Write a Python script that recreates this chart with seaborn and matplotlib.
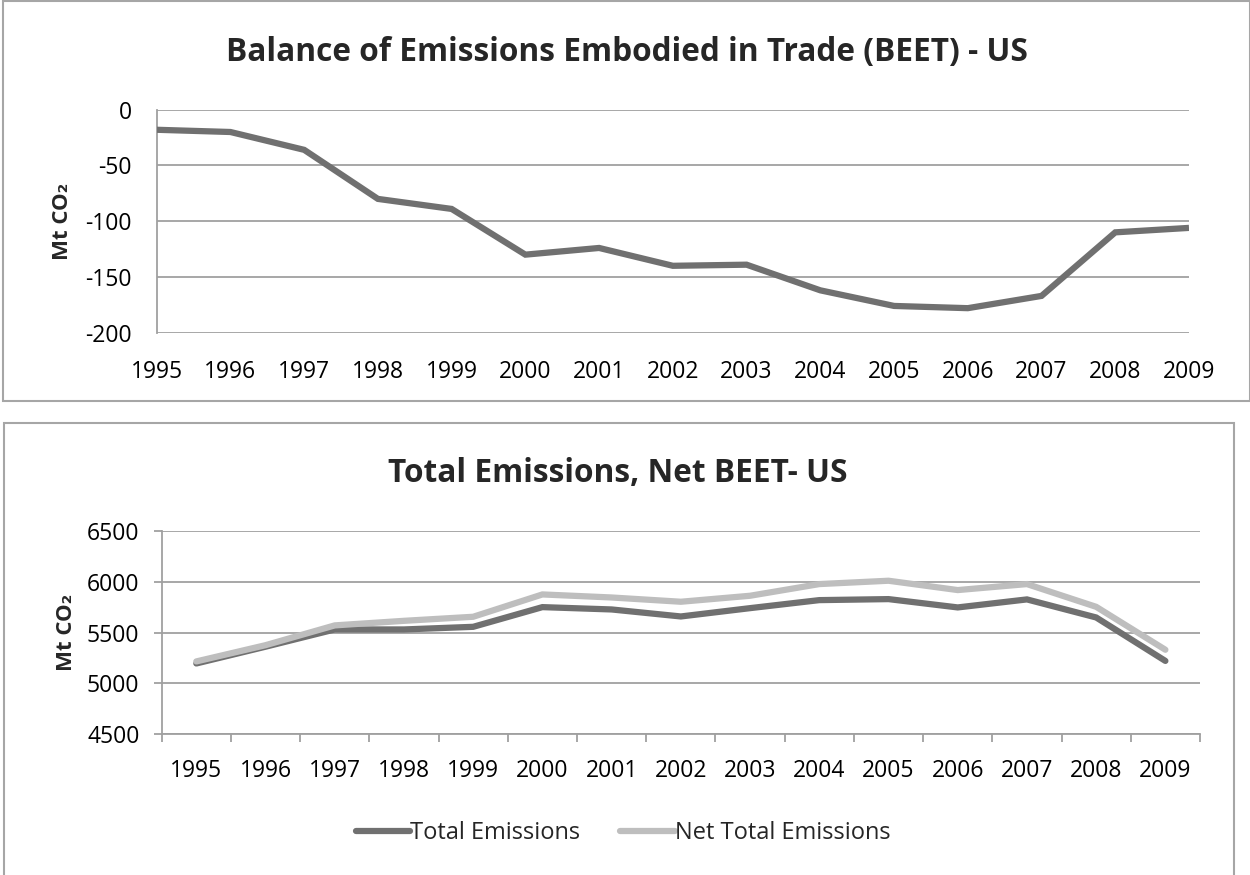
import matplotlib
matplotlib.use("Agg")
import matplotlib.pyplot as plt
from matplotlib.patches import Rectangle
from matplotlib.lines import Line2D
import seaborn as sns
import pandas as pd
import numpy as np

# ---- data (Mt CO2) ----
years = [1995, 1996, 1997, 1998, 1999, 2000, 2001, 2002,
         2003, 2004, 2005, 2006, 2007, 2008, 2009]
beet = [-18, -20, -36, -80, -89, -130, -124, -140,
        -139, -162, -176, -178, -167, -110, -106]
total_emissions = [5195, 5360, 5530, 5530, 5556, 5750, 5727, 5658,
                   5740, 5819, 5829, 5747, 5826, 5648, 5220]
net_total_emissions = [5215, 5375, 5570, 5615, 5655, 5875, 5845, 5803,
                       5862, 5977, 6010, 5918, 5977, 5753, 5330]
top_yticks = [0, -50, -100, -150, -200]
bottom_yticks = [4500, 5000, 5500, 6000, 6500]

DARK = "#707070"
LIGHT = "#BEBEBE"
GRID = "#A0A0A0"
BORDER = "#A6A6A6"

sns.set_theme(style="white")
plt.rcParams["font.family"] = ["Open Sans", "DejaVu Sans"]
plt.rcParams["axes.unicode_minus"] = False

W, H = 1250, 875
fig = plt.figure(figsize=(W / 100, H / 100), dpi=100)


def fx(px):
    return px / W


def fy(py):
    return 1 - py / H


# chart-area frames
fig.add_artist(Rectangle((fx(2.5), fy(400.5)), fx(1249.5) - fx(2.5), fy(1.5) - fy(400.5),
                         transform=fig.transFigure, fill=False, edgecolor=BORDER, lw=1.5))
fig.add_artist(Rectangle((fx(3.5), fy(880)), fx(1234) - fx(3.5), fy(422.5) - fy(880),
                         transform=fig.transFigure, fill=False, edgecolor=BORDER, lw=1.5))

TICK_FS = 16.5
TITLE_FS = 22.8

# ---- top panel: BEET ----
ax1 = fig.add_axes([fx(156.7), fy(332.7), fx(1189) - fx(156.7), fy(109.7) - fy(332.7)])
df_top = pd.DataFrame({"year": years, "beet": beet})
sns.lineplot(data=df_top, x="year", y="beet", ax=ax1, color=DARK, lw=4.5,
             solid_joinstyle="miter", solid_capstyle="butt", zorder=3)
ax1.set_xlim(1995, 2009)
ax1.set_ylim(-200, 0)
ax1.set_yticks(top_yticks)
ax1.set_xticks(years)
ax1.set_xticklabels([str(y) for y in years])
ax1.yaxis.grid(True, color=GRID, lw=1.3)
ax1.xaxis.grid(False)
for s in ["top", "right", "bottom"]:
    ax1.spines[s].set_visible(False)
ax1.spines["left"].set_color(GRID)
ax1.spines["left"].set_linewidth(1.3)
ax1.tick_params(axis="both", length=0, labelsize=TICK_FS, colors="black")
ax1.tick_params(axis="y", pad=18)
ax1.tick_params(axis="x", pad=20)
ax1.set_xlabel("")
ax1.set_ylabel("Mt CO\u2082", fontsize=16, fontweight="bold", labelpad=9)
fig.text(fx(627), fy(53), "Balance of Emissions Embodied in Trade (BEET) - US",
         ha="center", va="center", fontsize=TITLE_FS, fontweight="bold")

# ---- bottom panel: total vs net ----
ax2 = fig.add_axes([fx(161.7), fy(734), fx(1200) - fx(161.7), fy(531) - fy(734)])
df_bot = pd.DataFrame({
    "year": years * 2,
    "value": total_emissions + net_total_emissions,
    "series": ["Total Emissions"] * len(years) + ["Net Total Emissions"] * len(years),
})
sns.lineplot(data=df_bot, x="year", y="value", hue="series", ax=ax2,
             palette={"Total Emissions": DARK, "Net Total Emissions": LIGHT},
             lw=4.5, legend=False, solid_joinstyle="miter", zorder=3)
ax2.set_xlim(1994.5, 2009.5)
ax2.set_ylim(4500, 6500)
ax2.set_yticks(bottom_yticks)
ax2.set_xticks(years)
ax2.set_xticklabels([str(y) for y in years])
ax2.set_xticks(np.arange(1994.5, 2010.0, 1.0), minor=True)
ax2.yaxis.grid(True, color=GRID, lw=1.3)
ax2.xaxis.grid(False)
for s in ["top", "right"]:
    ax2.spines[s].set_visible(False)
for s in ["left", "bottom"]:
    ax2.spines[s].set_color(GRID)
    ax2.spines[s].set_linewidth(1.3)
ax2.tick_params(axis="x", which="major", length=0, labelsize=TICK_FS, colors="black", pad=18)
ax2.tick_params(axis="x", which="minor", length=6, width=1.3, color=GRID, bottom=True)
ax2.tick_params(axis="y", which="major", length=6, width=1.3, color=GRID, left=True,
                labelsize=TICK_FS, labelcolor="black", pad=10)
ax2.set_xlabel("")
ax2.set_ylabel("Mt CO\u2082", fontsize=16, fontweight="bold", labelpad=7)
fig.text(fx(618), fy(473), "Total Emissions, Net BEET- US",
         ha="center", va="center", fontsize=TITLE_FS, fontweight="bold")

handles = [Line2D([], [], color=DARK, lw=4.5), Line2D([], [], color=LIGHT, lw=4.5)]
fig.legend(handles, ["Total Emissions", "Net Total Emissions"],
           loc="center", bbox_to_anchor=(fx(623), fy(833)), ncol=2, frameon=False,
           fontsize=17, handlelength=2.3, handletextpad=0.0, columnspacing=1.7)

fig.savefig("out.png", dpi=100)
